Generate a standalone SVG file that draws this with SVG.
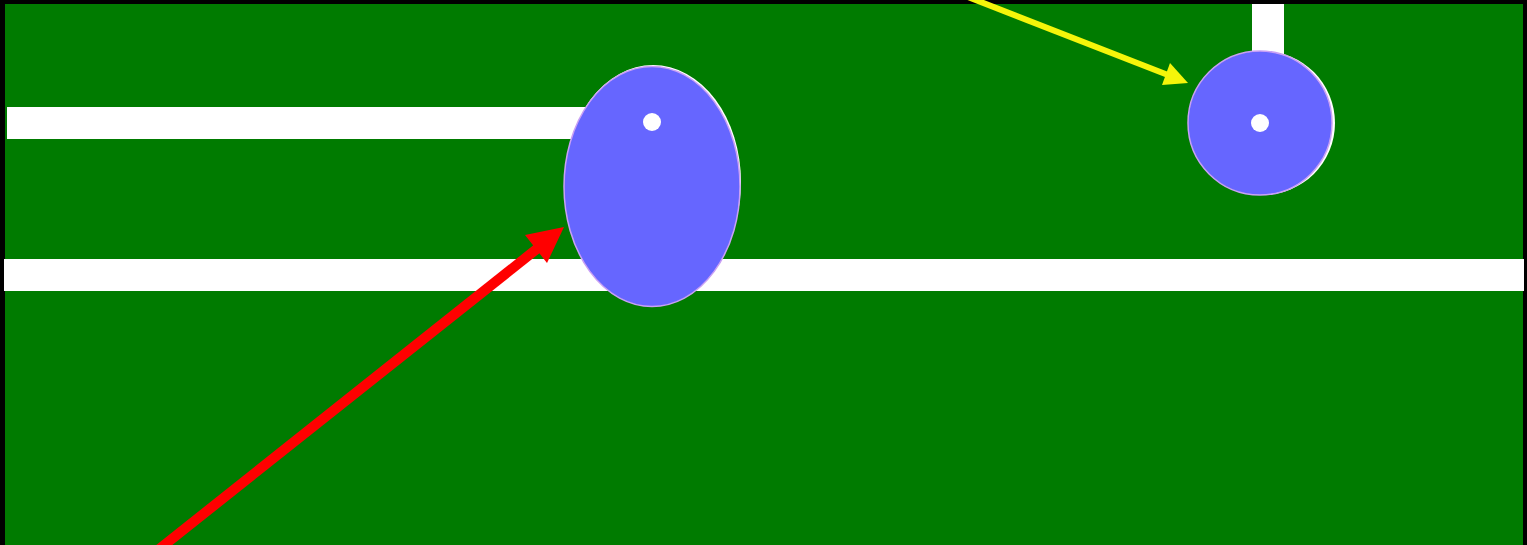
<svg xmlns="http://www.w3.org/2000/svg" width="1527" height="545" viewBox="0 0 1527 545">
  <style>
    .line { fill: #ffffff; }
    .shadow { fill: #ffffff; }
    .body { fill: #6666ff; stroke: #c9a0f5; stroke-width: 1.5; }
    .dot { fill: #ffffff; }
  </style>
  <rect x="0" y="0" width="1527" height="545" fill="#000000"/>
  <rect x="5" y="4" width="1518" height="541" fill="#007b00"/>
  <g id="field-lines">
    <rect class="line" x="7" y="107" width="600" height="32"/>
    <rect class="line" x="4" y="259" width="1520" height="32"/>
    <rect class="line" x="1252" y="4" width="32" height="60"/>
  </g>
  <g id="node-ellipse">
    <ellipse class="shadow" cx="653" cy="182" rx="88" ry="117"/>
    <ellipse class="body" cx="652" cy="186.5" rx="88" ry="120"/>
    <circle class="dot" cx="652" cy="122" r="9"/>
  </g>
  <g id="node-circle">
    <circle class="shadow" cx="1263" cy="123" r="72"/>
    <circle class="body" cx="1260" cy="123" r="72"/>
    <circle class="dot" cx="1260" cy="123" r="9"/>
  </g>
  <g id="connectors">
    <line x1="158" y1="550" x2="538" y2="248" stroke="#ff0000" stroke-width="10"/>
    <polygon points="564,227 525,235 547,263" fill="#ff0000"/>
    <line x1="968" y1="-3" x2="1168" y2="75" stroke="#f5f50a" stroke-width="6"/>
    <polygon points="1188,83 1162,85 1170,63" fill="#f5f50a"/>
  </g>
</svg>
